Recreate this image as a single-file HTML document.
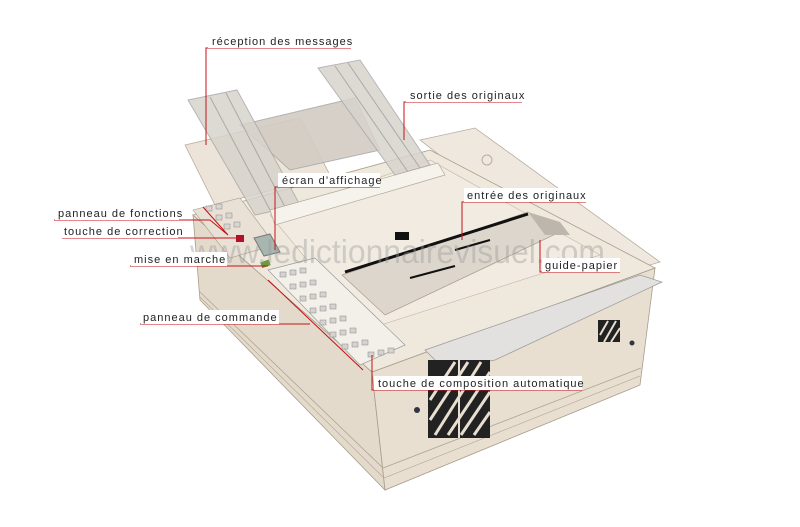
<!DOCTYPE html>
<html><head><meta charset="utf-8"><style>
body{margin:0;background:#fff;width:800px;height:527px;overflow:hidden}
svg{display:block}
.l{font-family:"Liberation Sans","DejaVu Sans",sans-serif;font-size:11px;letter-spacing:1px;fill:#222}
</style></head><body>
<svg width="800" height="527" viewBox="0 0 800 527">
<polygon points="185,145 300,118 330,175 215,205" fill="#ece4d8" stroke="#b8ad9e" stroke-width="0.8"/>
<polygon points="420,140 475,128 660,262 600,280" fill="#efe8de" stroke="#b8ad9e" stroke-width="0.8"/>
<circle cx="487" cy="160" r="5" fill="none" stroke="#b8ad9e"/>
<polygon points="193,215 372,372 385,490 200,300" fill="#e4dacb" stroke="#a89c8b" stroke-width="0.8"/>
<polygon points="372,372 655,268 640,385 385,490" fill="#e8dfd1" stroke="#a89c8b" stroke-width="0.8"/>
<polyline points="200,292 383,468 641,368" fill="none" stroke="#b0a493" stroke-width="0.8"/>
<polyline points="200,297 384,478 640,376" fill="none" stroke="#b0a493" stroke-width="0.6"/>
<polygon points="193,215 430,150 655,268 372,372" fill="#efe8dd" stroke="#a89c8b" stroke-width="0.8"/>
<polygon points="270,215 430,160 600,255 365,330" fill="#f1ebe1" stroke="#c2b7a8" stroke-width="0.6"/>
<polygon points="240,125 355,98 380,150 290,170" fill="#d2ccc4" opacity="0.9" stroke="#aaa"/>
<polygon points="188,100 237,90 300,205 255,215" fill="#d8d3cc" opacity="0.85" stroke="#aaa"/>
<line x1="210" y1="97" x2="270" y2="210" stroke="#aaa"/><line x1="226" y1="93" x2="285" y2="207" stroke="#aaa"/>
<polygon points="318,68 360,60 430,165 395,175" fill="#d8d3cc" opacity="0.85" stroke="#aaa"/>
<line x1="335" y1="66" x2="408" y2="172" stroke="#aaa"/><line x1="348" y1="63" x2="420" y2="168" stroke="#aaa"/>
<polygon points="270,210 438,163 445,175 275,225" fill="#f6f2ec" stroke="#b5aa9a" stroke-width="0.7"/>
<polygon points="193,210 240,198 275,245 230,258" fill="#e9e1d5" stroke="#a89c8b" stroke-width="0.6"/>
<g fill="#d9d6d2" stroke="#888" stroke-width="0.5">
<rect x="206" y="206" width="6" height="5"/><rect x="216" y="204" width="6" height="5"/>
<rect x="216" y="215" width="6" height="5"/><rect x="226" y="213" width="6" height="5"/>
<rect x="224" y="224" width="6" height="5"/><rect x="234" y="222" width="6" height="5"/>
</g>
<rect x="236" y="235" width="8" height="7" fill="#b0122a"/>
<polygon points="254,238 270,234 280,252 264,256" fill="#a8b6b0" stroke="#777"/>
<rect x="261" y="261" width="9" height="6" fill="#6a9a3a" transform="rotate(-20 265 264)"/>
<polygon points="268,270 315,258 405,345 360,365" fill="#f3f0ea" stroke="#999" stroke-width="0.7"/>
<g fill="#d6d3cf" stroke="#888" stroke-width="0.5">
<rect x="280" y="272" width="6" height="5"/><rect x="290" y="270" width="6" height="5"/><rect x="300" y="268" width="6" height="5"/>
<rect x="290" y="284" width="6" height="5"/><rect x="300" y="282" width="6" height="5"/><rect x="310" y="280" width="6" height="5"/>
<rect x="300" y="296" width="6" height="5"/><rect x="310" y="294" width="6" height="5"/><rect x="320" y="292" width="6" height="5"/>
<rect x="310" y="308" width="6" height="5"/><rect x="320" y="306" width="6" height="5"/><rect x="330" y="304" width="6" height="5"/>
<rect x="320" y="320" width="6" height="5"/><rect x="330" y="318" width="6" height="5"/><rect x="340" y="316" width="6" height="5"/>
<rect x="330" y="332" width="6" height="5"/><rect x="340" y="330" width="6" height="5"/><rect x="350" y="328" width="6" height="5"/>
<rect x="342" y="344" width="6" height="5"/><rect x="352" y="342" width="6" height="5"/><rect x="362" y="340" width="6" height="5"/>
<rect x="368" y="352" width="6" height="5"/><rect x="378" y="350" width="6" height="5"/><rect x="388" y="348" width="6" height="5"/>
</g>
<polygon points="342,275 528,212 560,232 385,315" fill="#dcd6cc" stroke="#a89c8b" stroke-width="0.7"/>
<line x1="345" y1="272" x2="528" y2="214" stroke="#111" stroke-width="3"/>
<line x1="410" y1="278" x2="455" y2="266" stroke="#111" stroke-width="2"/>
<line x1="455" y1="250" x2="490" y2="240" stroke="#111" stroke-width="2"/>
<rect x="395" y="232" width="14" height="8" fill="#111"/>
<polygon points="528,212 560,222 570,235 545,235" fill="#bdb6ac"/>
<polygon points="425,350 640,275 662,282 495,360 445,370" fill="#e2e1df" stroke="#999" stroke-width="0.7"/>
<rect x="428" y="360" width="62" height="78" fill="#222"/>
<g stroke="#e8dfd1" stroke-width="3">
<line x1="430" y1="400" x2="455" y2="362"/><line x1="430" y1="420" x2="468" y2="362"/><line x1="435" y1="435" x2="481" y2="362"/>
<line x1="448" y1="435" x2="490" y2="372"/><line x1="461" y1="435" x2="490" y2="392"/><line x1="474" y1="435" x2="490" y2="412"/>
</g>
<line x1="459" y1="360" x2="459" y2="438" stroke="#e8dfd1" stroke-width="2"/>
<rect x="598" y="320" width="22" height="22" fill="#222"/>
<g stroke="#e8dfd1" stroke-width="2"><line x1="600" y1="335" x2="608" y2="321"/><line x1="604" y1="342" x2="616" y2="321"/><line x1="611" y1="342" x2="620" y2="328"/></g>
<circle cx="417" cy="410" r="3" fill="#334"/><circle cx="632" cy="343" r="2.5" fill="#334"/>
<text x="190" y="263" font-family="Liberation Sans,sans-serif" font-size="33" textLength="415" lengthAdjust="spacingAndGlyphs" fill="#999" opacity="0.4">www.ledictionnairevisuel.com</text>
<g stroke="#c4121a" stroke-width="1" fill="none">
<polyline points="351,48 206,48 206,145"/>
<polyline points="522,102 404,102 404,140"/>
<polyline points="380,187 275,187 275,250"/>
<polyline points="586,202 462,202 462,240"/>
<polyline points="54,220 210,220 228,235 203,207"/>
<polyline points="62,238 240,238"/>
<polyline points="130,266 268,266"/>
<polyline points="620,272 540,272 540,240"/>
<polyline points="140,324 310,324"/>
<polyline points="268,280 363,370"/>
<polyline points="582,390 372,390 372,355"/>
</g>
<g>
<rect x="208" y="34" width="144" height="14" fill="#fff"/><text class="l" x="212" y="45">réception des messages</text>
<rect x="406" y="88" width="118" height="14" fill="#fff"/><text class="l" x="410" y="99">sortie des originaux</text>
<rect x="278" y="173" width="102" height="14" fill="#fff"/><text class="l" x="282" y="184">écran d’affichage</text>
<rect x="464" y="188" width="122" height="14" fill="#fff"/><text class="l" x="467" y="199">entrée des originaux</text>
<rect x="55" y="206" width="124" height="14" fill="#fff"/><text class="l" x="58" y="217">panneau de fonctions</text>
<rect x="62" y="224" width="116" height="14" fill="#fff"/><text class="l" x="64" y="235">touche de correction</text>
<rect x="131" y="252" width="96" height="14" fill="#fff"/><text class="l" x="134" y="263">mise en marche</text>
<rect x="542" y="258" width="78" height="14" fill="#fff"/><text class="l" x="545" y="269">guide-papier</text>
<rect x="141" y="310" width="138" height="14" fill="#fff"/><text class="l" x="143" y="321">panneau de commande</text>
<rect x="374" y="376" width="208" height="14" fill="#fff"/><text class="l" x="378" y="387">touche de composition automatique</text>
</g>
</svg>
</body></html>
